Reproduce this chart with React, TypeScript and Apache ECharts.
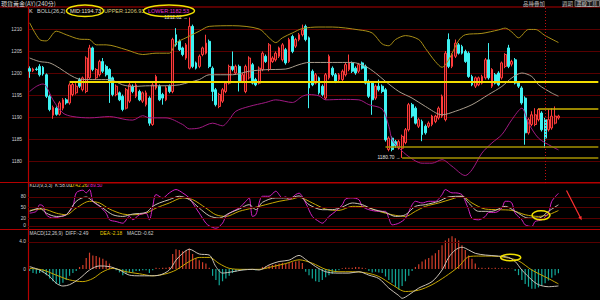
import React, { useEffect, useRef } from 'react';
import * as echarts from 'echarts';

// ---------- data ----------
const slotCount = 172; // visible candle slots (last ones empty)
const categories: string[] = Array.from({ length: slotCount }, (_, i) => String(i));

// candles: [open, close, low, high]
const ohlc: number[][] = [
  [1201.0, 1200.4, 1198.9, 1201.5], [1200.5, 1200.9, 1200.2, 1201.2], [1200.9, 1200.8, 1200.5, 1201.3], [1201.5, 1199.6, 1199.2, 1202.0],
  [1201.3, 1199.8, 1199.4, 1201.6], [1199.6, 1194.7, 1194.3, 1199.9], [1194.7, 1191.7, 1191.3, 1195.1], [1190.4, 1192.2, 1189.6, 1192.6],
  [1192.0, 1190.6, 1190.3, 1192.4], [1190.6, 1193.2, 1190.3, 1193.6], [1192.0, 1193.9, 1191.5, 1194.3], [1193.9, 1193.2, 1192.8, 1194.3],
  [1193.2, 1197.3, 1192.8, 1197.7], [1195.1, 1197.4, 1194.7, 1198.1], [1195.5, 1197.0, 1195.1, 1197.7], [1198.5, 1197.0, 1196.6, 1198.9],
  [1196.2, 1198.9, 1195.8, 1199.2], [1195.8, 1203.4, 1195.4, 1203.8], [1198.9, 1205.7, 1198.5, 1206.4], [1205.7, 1200.8, 1200.4, 1206.0],
  [1198.9, 1200.8, 1198.5, 1201.1], [1199.6, 1202.6, 1199.2, 1203.0], [1202.6, 1200.4, 1200.0, 1203.4], [1201.5, 1199.6, 1199.2, 1201.9],
  [1200.8, 1198.1, 1193.2, 1201.1], [1198.9, 1195.1, 1194.7, 1199.2], [1195.1, 1197.0, 1194.7, 1197.4], [1195.5, 1193.9, 1193.6, 1195.8],
  [1194.7, 1191.7, 1191.3, 1195.1], [1192.0, 1196.2, 1191.7, 1196.6], [1193.6, 1197.3, 1193.2, 1197.7], [1197.0, 1195.8, 1195.4, 1197.4],
  [1194.7, 1197.3, 1194.3, 1197.7], [1195.8, 1193.9, 1193.6, 1196.2], [1193.6, 1195.5, 1193.2, 1195.8], [1192.8, 1195.5, 1192.4, 1196.0],
  [1194.3, 1188.6, 1188.0, 1194.7], [1188.3, 1197.3, 1188.0, 1197.7], [1196.6, 1199.2, 1196.2, 1199.6], [1197.0, 1193.9, 1193.6, 1197.4],
  [1195.1, 1194.3, 1192.8, 1195.5], [1193.9, 1196.6, 1193.6, 1197.0], [1197.0, 1195.8, 1195.4, 1197.4], [1195.8, 1207.6, 1195.4, 1208.0],
  [1208.7, 1206.4, 1206.0, 1210.2], [1207.2, 1205.3, 1205.0, 1207.6], [1205.7, 1204.2, 1203.8, 1206.0], [1203.4, 1206.4, 1203.0, 1206.8],
  [1201.1, 1210.6, 1200.8, 1212.62], [1210.6, 1201.5, 1201.1, 1211.0], [1202.3, 1201.1, 1200.8, 1202.6], [1201.5, 1203.8, 1201.1, 1204.2],
  [1204.2, 1205.7, 1203.8, 1206.0], [1204.5, 1206.8, 1204.2, 1208.7], [1207.2, 1201.5, 1201.1, 1207.6], [1201.1, 1195.8, 1193.6, 1201.5],
  [1196.2, 1192.8, 1192.4, 1196.6], [1192.4, 1195.1, 1192.0, 1195.5], [1193.6, 1196.2, 1193.2, 1196.6], [1195.8, 1197.7, 1195.4, 1198.1],
  [1197.7, 1201.5, 1197.4, 1201.9], [1201.5, 1200.8, 1200.4, 1204.9], [1200.0, 1201.5, 1199.6, 1201.9], [1201.5, 1198.1, 1195.8, 1201.9],
  [1198.1, 1199.6, 1197.7, 1200.0], [1195.8, 1201.5, 1195.4, 1201.9], [1198.9, 1203.4, 1198.5, 1203.8], [1201.9, 1197.7, 1197.4, 1202.3],
  [1198.5, 1197.3, 1197.0, 1198.9], [1197.7, 1201.1, 1197.4, 1201.5], [1200.8, 1204.5, 1200.4, 1204.9], [1203.8, 1202.6, 1202.3, 1204.2],
  [1200.8, 1206.4, 1200.4, 1206.8], [1202.6, 1203.4, 1202.3, 1203.8], [1203.0, 1204.5, 1202.6, 1204.9], [1203.8, 1205.7, 1203.4, 1206.0],
  [1203.0, 1206.4, 1202.6, 1206.8], [1205.3, 1202.3, 1201.9, 1205.7], [1202.6, 1207.6, 1202.3, 1208.0], [1208.3, 1204.9, 1204.5, 1208.7],
  [1206.1, 1207.6, 1205.7, 1208.0], [1207.6, 1208.7, 1207.2, 1209.1], [1208.7, 1209.8, 1208.3, 1211.0], [1210.6, 1207.6, 1207.2, 1211.0],
  [1208.0, 1196.6, 1192.0, 1208.3], [1200.4, 1197.3, 1197.0, 1200.8], [1197.7, 1199.6, 1197.4, 1200.0], [1198.9, 1195.5, 1195.1, 1199.2],
  [1197.0, 1195.1, 1194.7, 1197.4], [1194.3, 1199.6, 1193.9, 1200.0], [1198.9, 1203.8, 1198.5, 1204.2], [1201.1, 1199.6, 1199.2, 1201.5],
  [1199.6, 1198.1, 1197.7, 1200.0], [1198.5, 1199.6, 1198.1, 1200.0], [1198.5, 1200.4, 1198.1, 1200.8], [1199.6, 1201.9, 1199.2, 1202.3],
  [1200.8, 1202.3, 1200.4, 1204.2], [1202.3, 1200.4, 1200.0, 1202.6], [1201.1, 1200.0, 1199.6, 1201.5], [1200.4, 1201.9, 1200.0, 1202.3],
  [1202.3, 1201.1, 1200.8, 1202.6], [1201.5, 1197.7, 1197.4, 1201.9], [1198.1, 1194.7, 1194.3, 1198.5], [1197.7, 1193.9, 1190.5, 1198.1],
  [1194.3, 1197.0, 1193.9, 1197.4], [1197.0, 1196.2, 1195.8, 1198.5], [1197.0, 1195.8, 1195.4, 1197.4], [1196.2, 1184.8, 1184.4, 1196.6],
  [1182.6, 1185.2, 1182.2, 1185.6], [1185.2, 1182.6, 1182.2, 1185.6], [1184.4, 1183.5, 1183.0, 1184.8], [1183.0, 1184.4, 1182.6, 1184.8],
  [1182.9, 1185.6, 1180.7, 1186.0], [1184.2, 1187.1, 1183.8, 1187.5], [1187.1, 1192.8, 1186.7, 1193.2], [1192.8, 1190.2, 1189.8, 1193.2],
  [1192.0, 1188.6, 1188.3, 1192.4], [1187.9, 1189.4, 1187.5, 1189.8], [1189.0, 1186.0, 1184.5, 1189.4], [1187.9, 1186.4, 1186.0, 1188.3],
  [1187.9, 1188.6, 1187.5, 1189.0], [1188.3, 1190.2, 1187.9, 1190.5], [1189.0, 1190.2, 1188.6, 1190.5], [1189.8, 1192.0, 1189.4, 1192.4],
  [1190.2, 1194.7, 1189.8, 1195.1], [1189.4, 1204.5, 1189.0, 1205.0], [1207.6, 1201.5, 1201.1, 1209.0], [1201.5, 1204.2, 1201.1, 1204.5],
  [1203.8, 1206.8, 1203.4, 1207.6], [1206.4, 1204.5, 1204.2, 1206.8], [1206.0, 1204.5, 1204.2, 1206.4], [1204.9, 1202.6, 1202.3, 1205.3],
  [1204.5, 1199.2, 1198.9, 1204.9], [1199.2, 1197.3, 1197.0, 1199.6], [1197.0, 1198.9, 1196.6, 1199.2], [1197.3, 1198.9, 1197.0, 1199.2],
  [1197.7, 1199.2, 1197.4, 1199.6], [1198.9, 1203.0, 1198.5, 1203.4], [1203.0, 1198.9, 1198.5, 1206.8], [1197.0, 1200.8, 1196.6, 1201.1],
  [1199.6, 1197.7, 1197.4, 1200.0], [1200.0, 1197.3, 1197.0, 1200.4], [1198.9, 1202.3, 1198.5, 1202.6], [1201.5, 1204.2, 1201.1, 1204.5],
  [1205.7, 1201.5, 1201.1, 1206.4], [1202.0, 1202.6, 1201.5, 1203.0], [1203.0, 1197.7, 1197.4, 1203.4], [1197.7, 1197.0, 1196.6, 1198.1],
  [1196.6, 1193.2, 1192.8, 1197.0], [1194.3, 1186.4, 1183.7, 1194.7], [1186.4, 1189.4, 1186.0, 1189.8], [1188.3, 1190.5, 1187.9, 1191.3],
  [1188.3, 1190.5, 1187.9, 1192.0], [1189.4, 1191.7, 1189.0, 1192.0], [1190.9, 1187.1, 1186.7, 1191.3], [1189.4, 1185.2, 1183.0, 1189.8],
  [1187.1, 1189.4, 1186.7, 1191.7], [1187.5, 1190.2, 1187.1, 1192.0], [1188.6, 1190.2, 1188.3, 1192.4], [1189.8, 1190.2, 1189.4, 1190.5],
];

// Bollinger bands read at sampled candle indices: [index, value]
const bollUpper: number[][] = [
  [0, 1211.4], [3, 1207.6], [5, 1207.3], [8, 1209.5], [11, 1208.7], [15, 1207.7], [18, 1207.6], [20, 1206.4], [23, 1206.4],
  [29, 1205.3], [34, 1204.2], [38, 1204.5], [42, 1204.5], [44, 1206.8], [47, 1208.0], [51, 1209.5], [54, 1210.6], [61, 1210.75],
  [69, 1210.0], [72, 1208.0], [74, 1206.9], [76, 1208.0], [79, 1209.1], [82, 1210.1], [87, 1210.45], [91, 1210.45], [99, 1209.8],
  [103, 1209.1], [106, 1206.6], [108, 1206.2], [110, 1207.6], [113, 1208.5], [117, 1207.6], [119, 1205.6], [122, 1202.6],
  [124, 1201.3], [126, 1203.0], [129, 1207.4], [131, 1208.7], [136, 1209.0], [141, 1209.8], [143, 1210.2], [145, 1209.3],
  [147, 1208.0], [150, 1209.9], [152, 1209.9], [155, 1208.5], [159, 1206.93],
];
const bollMid: number[][] = [
  [0, 1203.4], [3, 1202.6], [6, 1202.3], [9, 1201.1], [12, 1199.6], [15, 1198.6], [19, 1198.5], [24, 1198.5], [28, 1197.3],
  [31, 1196.95], [36, 1197.1], [41, 1197.1], [45, 1197.3], [48, 1197.9], [51, 1198.5], [54, 1199.6], [61, 1199.6], [66, 1200.4],
  [71, 1200.75], [77, 1200.9], [81, 1201.9], [84, 1202.4], [91, 1202.4], [97, 1202.4], [101, 1201.5], [104, 1200.0], [107, 1198.1],
  [111, 1195.8], [115, 1194.3], [119, 1192.4], [124, 1190.5], [128, 1191.3], [133, 1192.8], [138, 1195.1], [142, 1196.95],
  [145, 1198.9], [148, 1200.0], [151, 1199.2], [153, 1197.35], [157, 1195.45], [159, 1194.73],
];
const bollLower: number[][] = [
  [0, 1195.8], [2, 1196.95], [4, 1197.5], [5, 1196.95], [7, 1193.9], [10, 1190.9], [13, 1190.1], [18, 1189.8], [24, 1190.1],
  [29, 1189.4], [31, 1189.3], [34, 1190.3], [36, 1189.8], [41, 1189.8], [46, 1188.3], [48, 1187.3], [51, 1187.5], [55, 1188.6],
  [58, 1188.0], [60, 1189.4], [62, 1191.3], [66, 1192.4], [71, 1193.3], [74, 1193.9], [79, 1193.3], [82, 1194.7], [84, 1195.1],
  [87, 1194.8], [89, 1193.9], [94, 1194.0], [99, 1193.9], [102, 1192.8], [106, 1191.8], [108, 1187.9], [109, 1184.8], [111, 1183.0],
  [114, 1181.0], [118, 1179.5], [121, 1179.5], [124, 1180.3], [127, 1178.8], [131, 1176.7], [133, 1178.0], [136, 1181.8],
  [139, 1184.1], [142, 1186.0], [145, 1189.4], [148, 1192.0], [150, 1188.6], [153, 1185.2], [157, 1183.3], [159, 1182.53],
];

// KDJ
const kLine: number[][] = [
  [0, 40], [3, 49], [5, 35], [8, 26], [11, 30.6], [14, 67.6], [17, 79.7], [19, 67.6], [22, 49], [25, 30.6], [28, 26], [31, 32.5],
  [35, 37], [37, 53.7], [39, 63], [42, 72.3], [45, 81.5], [48, 72.3], [51, 49], [54, 27.8], [57, 21.3], [60, 35], [63, 46.3],
  [66, 58.4], [68, 44.5], [70, 64.8], [74, 77], [78, 77], [81, 82.5], [84, 58.4], [88, 44.5], [91, 44.5], [94, 52], [97, 63],
  [100, 58.4], [103, 46.3], [107, 37], [110, 26], [113, 30.6], [116, 53.7], [119, 58.4], [123, 67.6], [126, 79.7], [130, 81.5],
  [132, 63], [135, 40], [139, 40], [143, 53.7], [146, 40], [150, 21.3], [153, 21.3], [156, 40], [159, 58.0],
];
const dLine: number[][] = [
  [0, 42.6], [4, 46.3], [8, 35], [11, 30.6], [14, 49], [18, 67.6], [21, 63], [24, 46.3], [28, 32.5], [31, 30.6], [35, 35],
  [38, 49], [42, 63], [46, 77], [49, 72.3], [53, 49], [56, 30.6], [59, 26], [63, 40], [67, 49], [71, 58.4], [75, 67.6], [79, 74],
  [81, 78.5], [85, 63], [89, 46.3], [93, 42.6], [97, 53.7], [101, 52], [105, 40], [109, 30.6], [113, 26], [116, 40], [119, 53.7],
  [123, 63], [127, 74], [130, 81.5], [133, 63], [137, 46.3], [141, 44.5], [145, 42.6], [149, 30.6], [153, 26], [156, 30.6], [159, 42.26],
];
const jLine: number[][] = [
  [0, 35], [2, 40], [3, 58], [4, 55], [5, 30.6], [7, 21.3], [9, 25], [11, 30.6], [13, 53.7], [14, 90.8], [16, 98.2], [17, 90.8],
  [18, 100], [19, 67.6], [20, 60], [21, 53.7], [23, 35], [24, 16.7], [26, 12], [28, 7.4], [30, 26], [31, 17], [33, 30.6], [35, 35],
  [36, 16.7], [37, 53.7], [38, 86.2], [40, 76.9], [42, 90.8], [44, 100], [46, 90.8], [48, 76.9], [49, 63], [51, 35], [53, 7.4],
  [54, 0], [56, -6.5], [58, 7.4], [59, 26], [61, 39.8], [63, 49.1], [65, 67.6], [66, 77], [67, 26], [68, 30.6], [70, 81.5],
  [72, 81.5], [74, 95.4], [76, 77], [77, 80], [78, 72.3], [80, 86.2], [81, 90], [83, 63], [85, 26], [87, 12], [88, 7.4], [90, 26],
  [92, 40], [94, 58], [95, 74], [97, 77], [99, 72], [100, 54], [102, 44.5], [105, 40], [107, 40], [108, 21], [109, 2.8], [111, 7.4],
  [113, 21], [115, 58], [116, 67.6], [118, 63], [120, 67.6], [122, 67.6], [124, 86], [125, 100], [127, 90.8], [128, 90.8], [130, 86],
  [131, 67.6], [132, 44.5], [133, 21], [135, 16.7], [137, 26], [138, 37], [140, 37], [142, 49], [143, 67.6], [144, 67.6], [145, 63],
  [146, 35], [148, 16.7], [149, 2.8], [151, -1.8], [152, 12], [154, 16.7], [156, 35], [157, 67.6], [159, 89.5],
];
const kdjLevels = [80, 50, 20, 0];

// MACD
const diffLine: number[][] = [
  [0, 0.35], [3, -0.15], [6, -1.1], [8, -2.1], [10, -2.5], [12, -2.3], [15, -1.4], [18, -0.15], [21, 0.45], [24, 0.35],
  [27, -0.15], [30, -0.9], [33, -1.0], [36, -1.0], [39, -0.9], [42, -0.15], [44, 1.3], [46, 2.3], [48, 2.9], [51, 2.2],
  [54, 2.05], [56, 0.35], [58, -0.6], [61, -0.4], [64, -0.15], [67, -0.05], [69, -0.15], [72, 0.6], [75, 1.1], [78, 1.3],
  [81, 2.0], [83, 1.4], [86, 0.35], [89, -0.4], [92, -0.6], [96, -0.6], [99, -0.4], [102, -0.9], [105, -1.4], [108, -2.8],
  [111, -3.9], [112, -4.3], [114, -3.8], [117, -2.8], [121, -1.85], [124, -0.15], [126, 1.7], [128, 2.8], [130, 3.2], [132, 2.8],
  [134, 2.3], [137, 2.05], [141, 1.9], [144, 1.7], [146, 1.1], [148, -0.15], [151, -1.6], [153, -2.3], [156, -2.6], [159, -2.49],
];
const deaLine: number[][] = [
  [0, 0.1], [4, -0.15], [8, -0.9], [12, -1.6], [16, -1.85], [19, -1.4], [22, -0.4], [25, 0.1], [29, -0.4], [33, -0.7],
  [37, -1.0], [41, -0.7], [44, -0.15], [48, 1.1], [51, 1.7], [54, 1.7], [57, 0.8], [60, 0.1], [64, -0.05], [69, -0.05],
  [73, 0.35], [77, 0.8], [81, 1.35], [85, 0.85], [89, -0.05], [93, -0.4], [97, -0.4], [101, -0.55], [105, -1.1], [109, -2.3],
  [113, -3.3], [117, -3.1], [121, -2.3], [125, -1.1], [129, 0.35], [132, 1.8], [135, 1.9], [139, 1.9], [143, 1.7], [147, 1.2],
  [151, -0.15], [156, -1.4], [159, -2.18],
];
const macdHist: number[] = [
  -0.3, -0.6, -0.7, -0.6, -0.5, -0.9, -1.4, -1.8, -2.2, -2.3, -2.0, -1.6, -1.0, -0.6, -0.3,
  0.3, 0.6, 1.6, 2.4, 2.0, 1.9, 1.7, 1.5, 1.2, 0.8, 0.3,
  -0.2, -0.5, -0.9, -0.7, -0.5, -0.5, -0.3, -0.3, -0.2, -0.2, -0.6, -0.2, 0.2, 0.1, 0.2, 0.2, 0.3,
  2.2, 2.9, 2.8, 2.6, 2.7, 3.0, 2.2, 1.6, 1.3, 1.0, 0.8, 0.2,
  -1.0, -1.6, -2.4, -1.8, -1.4, -1.0, -0.6, -0.4, -0.3, -0.2, -0.1, -0.05, -0.05, -0.2, -0.1,
  0.3, 0.4, 0.5, 0.6, 0.7, 0.8, 0.9, 0.8, 0.9, 1.0, 1.1, 1.2, 0.9,
  -0.4, -0.9, -1.4, -1.8, -1.9, -1.6, -1.2, -0.9, -0.7, -0.5,
  -0.2, 0.1, 0.2, 0.2, 0.2, 0.3, 0.3, 0.2, 0.1,
  -0.3, -0.5, -0.4, -0.5, -0.6, -1.1, -1.6, -2.0, -2.6, -3.0, -2.5, -1.8, -1.0, -0.3,
  0.3, 0.7, 1.1, 1.4, 1.6, 2.0, 2.3, 2.8, 3.5, 4.2, 4.5, 4.8, 4.5, 4.2, 3.5, 2.8, 2.0, 1.5, 0.8, 0.2,
  0.2, 0.1, 0.2, 0.1, 0.2, 0.1, 0.2, 0.1, 0.1, 0.05,
  -0.3, -0.9, -1.6, -2.2, -2.6, -2.9, -2.9, -2.7, -2.4, -2.1, -1.7, -1.3, -0.9, -0.62,
];
const macdLevels = [4, 0];
const macdLevelLabels = ['4.0', '0'];

// drawn horizontal price lines (price, start candle)
const drawnPrices = [1197.95, 1191.9, 1183.2, 1180.7];
const drawnStarts = [12, 153, 107, 112];

// extremes & cursor
const highIndex = 48;
const highValue = 1212.62;
const lowIndex = 112;
const lowValue = 1180.7;
const cursorIndex = 155;

// legend values
const bollMidLast = '1194.73';
const bollUpperLast = '1206.93';
const bollLowerLast = '1182.53';
const kLast = '58.00';
const dLast = '42.26';
const jLast = '89.50';
const diffLast = '-2.49';
const deaLast = '-2.18';
const macdLast = '-0.62';

// ---------- styles ----------
const FONT = '"Liberation Sans", "DejaVu Sans", "Noto Sans CJK TC", sans-serif';
const CJK = '"Noto Sans CJK TC", "Noto Sans CJK SC", sans-serif';
const AXIS_RED = '#b40000';
const GRID_RED = '#580000';
const C_UP = '#ff3c3c';
const C_DOWN = '#3ef2f2';
const C_UPPER = '#a88e16';
const C_MID = '#a89c8c';
const C_LOWER = '#a01a82';
const C_K = '#cac2b6';
const C_D = '#c8a800';
const C_J = '#d421c2';

function txt(text: string, x: number, y: number, fill: string, size: number, family = FONT) {
  return {
    type: 'text',
    x,
    y,
    silent: true,
    style: { text, fill, fontSize: size, fontFamily: family, align: 'left', verticalAlign: 'middle' },
  };
}

export default function App() {
  const ref = useRef<HTMLDivElement>(null);

  useEffect(() => {
    document.body.style.margin = '0';
    document.body.style.background = '#000';
    if (!ref.current) return;
    const chart = echarts.init(ref.current, undefined, { renderer: 'svg' });

    const xAxisBase = (gridIndex: number) => ({
      gridIndex,
      type: 'category',
      data: categories,
      boundaryGap: true,
      axisLine: { show: false },
      axisTick: { show: false },
      axisLabel: { show: false },
      splitLine: { show: false },
    });

    const lineSeries = (name: string, data: number[][], color: string, idx: number, z = 3) => ({
      name,
      type: 'line',
      xAxisIndex: idx,
      yAxisIndex: idx,
      data,
      smooth: 0.3,
      symbol: 'none',
      showSymbol: false,
      silent: true,
      z,
      lineStyle: { color, width: 1 },
    });

    const drawnStyles = [
      { color: '#f2dc00', width: 2 },
      { color: '#cdb400', width: 1.5 },
      { color: '#a69200', width: 1.5 },
      { color: '#a69200', width: 1.5 },
    ];

    const option: any = {
      animation: false,
      backgroundColor: '#000',
      grid: [
        { left: 28, right: 0, top: 7, height: 176 },
        { left: 28, right: 0, top: 183, height: 46.5 },
        { left: 28, right: 0, top: 229.5, height: 70.5 },
      ],
      xAxis: [xAxisBase(0), xAxisBase(1), xAxisBase(2)],
      yAxis: [
        {
          gridIndex: 0,
          type: 'value',
          min: 1175,
          max: 1215,
          interval: 5,
          axisLine: { show: true, lineStyle: { color: AXIS_RED, width: 1.2 } },
          axisTick: { show: false },
          axisLabel: {
            color: '#cfcfcf',
            fontSize: 4.8,
            fontFamily: FONT,
            margin: 6,
            formatter: (v: number) => (v === 1175 || v === 1215 ? '' : String(v)),
          },
          splitLine: { show: true, lineStyle: { color: GRID_RED, width: 1 } },
        },
        {
          gridIndex: 1,
          type: 'value',
          min: -10,
          max: 118,
          axisLine: { show: true, lineStyle: { color: AXIS_RED, width: 1.2 } },
          axisTick: { show: false },
          axisLabel: { show: false },
          splitLine: { show: false },
        },
        {
          gridIndex: 2,
          type: 'value',
          min: -4.55,
          max: 5.8,
          axisLine: { show: true, lineStyle: { color: AXIS_RED, width: 1.2 } },
          axisTick: { show: false },
          axisLabel: { show: false },
          splitLine: { show: false },
        },
      ],
      series: [
        {
          name: 'K',
          type: 'candlestick',
          xAxisIndex: 0,
          yAxisIndex: 0,
          data: ohlc,
          barWidth: '70%',
          z: 2,
          silent: true,
          itemStyle: {
            color: '#4a0606',
            color0: C_DOWN,
            borderColor: C_UP,
            borderColor0: C_DOWN,
            borderWidth: 1,
          },
          markLine: {
            silent: true,
            symbol: ['none', 'none'],
            animation: false,
            label: { show: false },
            data: [
              ...drawnPrices.map((p, k) => [
                { coord: [drawnStarts[k], p], lineStyle: { ...drawnStyles[k], type: 'solid' } },
                { coord: [slotCount - 1, p] },
              ]),
              { xAxis: cursorIndex, lineStyle: { color: '#c01010', type: [1, 2], width: 1 } },
            ],
          },
          markPoint: {
            silent: true,
            symbol: 'circle',
            symbolSize: 1,
            itemStyle: { color: 'rgba(0,0,0,0)' },
            data: [
              {
                coord: [highIndex, highValue],
                label: { show: true, position: 'left', distance: 1, formatter: highValue.toFixed(2) + ' →', color: '#e6e6e6', fontSize: 4.8, fontFamily: FONT },
              },
              {
                coord: [lowIndex, lowValue],
                label: { show: true, position: 'left', distance: 1, formatter: lowValue.toFixed(2) + ' →', color: '#e6e6e6', fontSize: 4.8, fontFamily: FONT },
              },
            ],
          },
        },
        lineSeries('UPPER', bollUpper, C_UPPER, 0),
        lineSeries('MID', bollMid, C_MID, 0),
        lineSeries('LOWER', bollLower, C_LOWER, 0),
        {
          ...lineSeries('Kline', kLine, C_K, 1, 4),
          markLine: {
            silent: true,
            symbol: ['none', 'none'],
            animation: false,
            lineStyle: { color: GRID_RED, type: 'solid', width: 1 },
            label: { show: true, position: 'start', distance: 2, color: '#cfcfcf', fontSize: 4.8, fontFamily: FONT, formatter: '{c}' },
            data: kdjLevels.map((v) => ({ yAxis: v })),
          },
          z: 4,
        },
        lineSeries('Dline', dLine, C_D, 1, 3),
        lineSeries('Jline', jLine, C_J, 1, 3),
        {
          name: 'MACD',
          type: 'bar',
          xAxisIndex: 2,
          yAxisIndex: 2,
          data: macdHist,
          barWidth: 1.2,
          silent: true,
          z: 2,
          itemStyle: { color: (p: any) => (p.value >= 0 ? '#d23e2a' : '#12a898') },
          markLine: {
            silent: true,
            symbol: ['none', 'none'],
            animation: false,
            label: { show: true, position: 'start', distance: 2, color: '#cfcfcf', fontSize: 4.8, fontFamily: FONT },
            data: macdLevels.map((v, k) => ({
              yAxis: v,
              label: { show: true, formatter: macdLevelLabels[k], color: '#cfcfcf' },
              lineStyle: { color: k === 0 ? GRID_RED : 'rgba(0,0,0,0)', width: 1, type: 'solid' },
            })),
          },
        },
        lineSeries('DIFF', diffLine, C_K, 2, 4),
        lineSeries('DEA', deaLine, C_D, 2, 3),
      ],
      graphic: [
        { type: 'line', silent: true, shape: { x1: 0, y1: 7, x2: 600, y2: 7 }, style: { stroke: AXIS_RED, lineWidth: 1 } },
        { type: 'line', silent: true, shape: { x1: 0, y1: 182.5, x2: 600, y2: 182.5 }, style: { stroke: AXIS_RED, lineWidth: 1 } },
        { type: 'line', silent: true, shape: { x1: 0, y1: 229.5, x2: 600, y2: 229.5 }, style: { stroke: AXIS_RED, lineWidth: 1 } },
        txt('現貨黃金(AY)(240分)', 1, 3, '#d8d8d8', 6, CJK),
        txt('品種疊加', 523, 3.5, '#bdbdbd', 5.5, CJK),
        txt('週期', 562, 3.5, '#bdbdbd', 5.5, CJK),
        {
          type: 'rect',
          silent: true,
          shape: { x: 575, y: 0.5, width: 24.5, height: 6 },
          style: { fill: '#1c1c1c', stroke: '#8c8c8c', lineWidth: 0.8 },
        },
        txt('畫線工具', 576.5, 3.5, '#cfcfcf', 5.2, CJK),
        txt('K', 29, 11, '#e0e0e0', 5.5),
        txt('BOLL(26,2)', 37, 11, '#d0d0d0', 5.5),
        txt('MID:' + bollMidLast, 70, 11, '#ece4d4', 5.5),
        txt('UPPER:' + bollUpperLast, 104, 11, '#d8c878', 5.5),
        txt('LOWER:' + bollLowerLast, 148, 11, '#e030d0', 5.5),
        txt('KDJ(9,3,3)  K:' + kLast, 29.5, 185.8, '#d0d0d0', 4.8),
        txt('D:' + dLast, 70.5, 185.8, '#e8d000', 4.8),
        txt('J:' + jLast, 86.5, 185.8, '#e020d0', 4.8),
        txt('MACD(12,26,9)  DIFF:' + diffLast, 29.5, 233, '#d0d0d0', 4.8),
        txt('DEA:' + deaLast, 100, 233, '#e8d000', 4.8),
        txt('MACD:' + macdLast, 127, 233, '#d0d0d0', 4.8),
        { type: 'ellipse', silent: true, z: 100, shape: { cx: 85, cy: 10.8, rx: 18.5, ry: 5.8 }, style: { fill: 'none', stroke: '#f0e000', lineWidth: 1.5 } },
        { type: 'ellipse', silent: true, z: 100, shape: { cx: 169, cy: 10.8, rx: 25.5, ry: 5.8 }, style: { fill: 'none', stroke: '#f0e000', lineWidth: 1.5 } },
        { type: 'ellipse', silent: true, z: 100, shape: { cx: 541, cy: 215.3, rx: 9, ry: 4.5 }, style: { fill: 'none', stroke: '#f0e000', lineWidth: 1.5 } },
        { type: 'ellipse', silent: true, z: 100, shape: { cx: 510.7, cy: 257.5, rx: 10, ry: 3.3 }, style: { fill: 'none', stroke: '#f0e000', lineWidth: 1.5 } },
        { type: 'line', silent: true, z: 100, shape: { x1: 566.5, y1: 190.5, x2: 580.2, y2: 217.2 }, style: { stroke: '#ff3030', lineWidth: 1.2 } },
        { type: 'polygon', silent: true, z: 100, shape: { points: [[581.7, 220.3], [581.5, 215.9], [578.3, 217.5]] }, style: { fill: '#ff3030' } },
      ],
    };

    chart.setOption(option);
    return () => chart.dispose();
  }, []);

  return <div ref={ref} style={{ width: 600, height: 300, background: '#000' }} />;
}
